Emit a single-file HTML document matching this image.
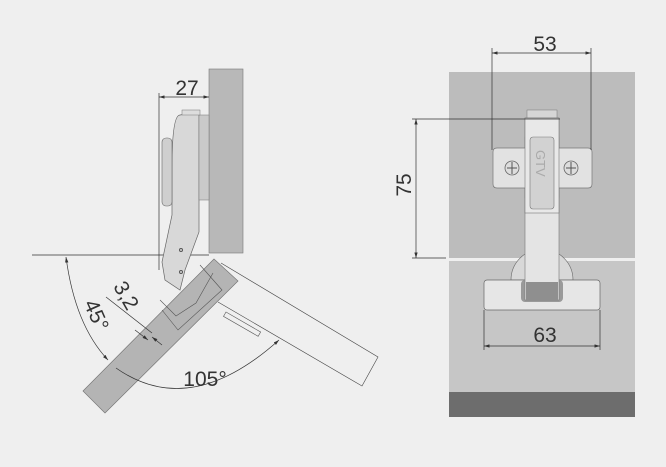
<!DOCTYPE html>
<html><head><meta charset="utf-8"><style>
html,body{margin:0;padding:0;background:#efefef;}
svg{display:block}
text{font-family:"Liberation Sans",sans-serif;fill:#333;}
</style></head><body>
<svg width="666" height="467" viewBox="0 0 666 467" xmlns="http://www.w3.org/2000/svg">
<rect width="666" height="467" fill="#efefef"/>
<defs>
<marker id="a" viewBox="0 0 10 6" refX="10" refY="3" markerWidth="8" markerHeight="5" orient="auto-start-reverse"><path d="M0,0L10,3L0,6z" fill="#333"/></marker>
</defs>

<!-- RIGHT PANEL -->
<rect x="449" y="72" width="186" height="186" fill="#bcbcbc"/>
<rect x="449" y="261" width="186" height="131" fill="#c6c6c6"/>
<rect x="449" y="392" width="186" height="25" fill="#6d6d6d"/>
<path d="M511,280 A30,30 0 0 1 573,280Z" fill="#d8d8d8" stroke="#666" stroke-width="0.6"/>
<rect x="484" y="280" width="116" height="30" rx="3" fill="#e6e6e6" stroke="#666" stroke-width="0.7"/>
<rect x="521" y="280" width="42" height="22" rx="4" fill="#9a9a9a"/>
<rect x="527" y="110" width="30" height="10" fill="#d6d6d6" stroke="#777" stroke-width="0.5"/>
<rect x="525" y="118" width="34" height="182" fill="#e4e4e4" stroke="#777" stroke-width="0.6"/>
<rect x="526" y="282" width="32" height="18" fill="#8f8f8f"/>
<path d="M525,148 L525,137 L559,137 L559,148 L588,148 Q592,148 592,152 L592,184 Q592,188 588,188 L559,188 L559,198 L525,198 L525,188 L497,188 Q493,188 493,184 L493,152 Q493,148 497,148Z" fill="#e2e2e2" stroke="#777" stroke-width="0.7"/>
<rect x="525" y="118" width="34" height="95" fill="#e8e8e8" stroke="#777" stroke-width="0.6"/>
<rect x="530" y="137" width="24" height="72" rx="3" fill="#d2d2d2" stroke="#777" stroke-width="0.6"/>
<text x="0" y="0" font-size="13" transform="translate(536,150) rotate(90)" style="fill:#aaa">GTV</text>
<circle cx="512" cy="168" r="7" fill="#ddd" stroke="#666" stroke-width="0.8"/>
<line x1="512" y1="162" x2="512" y2="174" stroke="#555"/><line x1="507" y1="168" x2="517" y2="168" stroke="#555"/>
<circle cx="571" cy="168" r="7" fill="#ddd" stroke="#666" stroke-width="0.8"/>
<line x1="571" y1="162" x2="571" y2="174" stroke="#555"/><line x1="566" y1="168" x2="576" y2="168" stroke="#555"/>
<g stroke="#333" stroke-width="0.7" fill="none">
<line x1="492" y1="48" x2="492" y2="150"/><line x1="591" y1="48" x2="591" y2="150"/>
<line x1="492" y1="53" x2="591" y2="53" marker-start="url(#a)" marker-end="url(#a)"/>
<line x1="412" y1="119" x2="560" y2="119"/><line x1="412" y1="258" x2="446" y2="258"/>
<line x1="416" y1="119" x2="416" y2="258" marker-start="url(#a)" marker-end="url(#a)"/>
<line x1="484" y1="310" x2="484" y2="350"/><line x1="600" y1="310" x2="600" y2="350"/>
<line x1="484" y1="346" x2="600" y2="346" marker-start="url(#a)" marker-end="url(#a)"/>
</g>
<text x="545" y="51" font-size="21" text-anchor="middle">53</text>
<text x="0" y="0" font-size="21" text-anchor="middle" transform="translate(411,185) rotate(-90)">75</text>
<text x="545" y="342" font-size="21" text-anchor="middle">63</text>

<!-- LEFT PANEL -->
<rect x="209" y="69" width="34" height="184" fill="#b8b8b8" stroke="#777" stroke-width="0.6"/>
<line x1="32" y1="255" x2="209" y2="255" stroke="#333" stroke-width="0.7"/>
<path d="M221,263 L378,357 L362,386 L218,302" fill="none" stroke="#444" stroke-width="0.6"/>
<rect x="0" y="0" width="40" height="5" fill="none" stroke="#555" stroke-width="0.6" transform="translate(226,312) rotate(30)"/>
<path d="M214,259 L238,281 L105,413 L83,391Z" fill="#b4b4b4" stroke="#777" stroke-width="0.7"/>
<path d="M213,273 L196,303 L176,316 L160,300" fill="none" stroke="#555" stroke-width="0.6"/>
<path d="M200,265 L222,290 L178,330 L162,310" fill="none" stroke="#555" stroke-width="0.6"/>
<path d="M199,112 L199,232 L185,270 L180,290 L165,280 L162,262 L172,215 L172,168 Q172,115 180,115Z" fill="#d8d8d8" stroke="#666" stroke-width="0.7"/>
<rect x="162" y="138" width="10" height="68" rx="4" fill="#cfcfcf" stroke="#666" stroke-width="0.6"/>
<rect x="199" y="115" width="10" height="85" fill="#cacaca" stroke="#777" stroke-width="0.5"/>
<rect x="182" y="110" width="18" height="5" fill="#ddd" stroke="#777" stroke-width="0.5"/>
<circle cx="181" cy="250" r="1.5" fill="none" stroke="#555"/>
<circle cx="181" cy="272" r="1.5" fill="none" stroke="#555"/>
<g stroke="#333" stroke-width="0.7" fill="none">
<line x1="159" y1="93" x2="159" y2="270"/>
<line x1="159" y1="97" x2="209" y2="97" marker-start="url(#a)" marker-end="url(#a)"/>
<path d="M66,257 Q75,325 108,360" marker-start="url(#a)" marker-end="url(#a)"/>
<path d="M116,368 Q190,420 279,340" marker-end="url(#a)"/>
<line x1="106" y1="297" x2="152" y2="333"/>
<line x1="135" y1="330" x2="148" y2="340" marker-end="url(#a)"/>
<line x1="162" y1="345" x2="152" y2="337" marker-end="url(#a)"/>
</g>
<text x="187" y="95" font-size="21" text-anchor="middle">27</text>
<text x="0" y="0" font-size="21" text-anchor="middle" transform="translate(90,318) rotate(66)">45°</text>
<text x="0" y="0" font-size="21" text-anchor="middle" transform="translate(120,299) rotate(60)">3,2</text>
<text x="205" y="386" font-size="21" text-anchor="middle">105°</text>
</svg>
</body></html>
